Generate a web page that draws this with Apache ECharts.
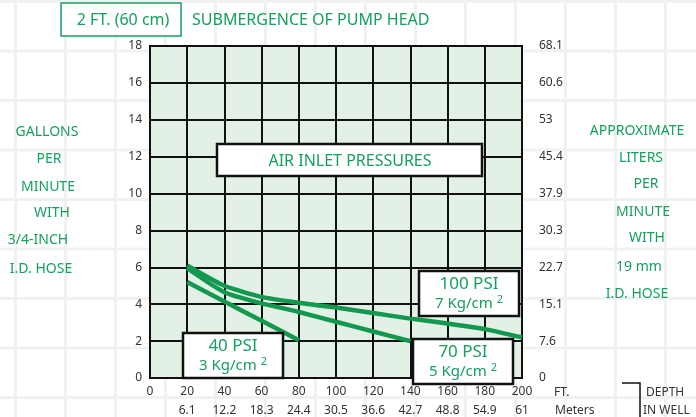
<!DOCTYPE html>
<html>
<head>
<meta charset="utf-8">
<script src="https://cdn.jsdelivr.net/npm/echarts@6/dist/echarts.min.js"></script>
<style>
  html, body {
    margin: 0;
    padding: 0;
    background-color: #fff;
    background-image:
      linear-gradient(90deg, #f0f2f2 3px, transparent 3px),
      linear-gradient(#f0f2f2 3px, transparent 3px);
    background-size: 50px 49.5px;
    background-position: 14px 0px;
  }
  #chart { width: 696px; height: 417px; }
</style>
</head>
<body>
<div id="chart"></div>
<script>
// depth in well (ft) ticks and the metric equivalents
const feetTicks = [0, 20, 40, 60, 80, 100, 120, 140, 160, 180, 200]
const meterLabels = ['', '6.1', '12.2', '18.3', '24.4', '30.5', '36.6', '42.7', '48.8', '54.9', '61']
// gallons per minute ticks and liters per minute equivalents
const gpmTicks = [0, 2, 4, 6, 8, 10, 12, 14, 16, 18]
const lpmLabels = ['0', '7.6', '15.1', '22.7', '30.3', '37.9', '45.4', '53', '60.6', '68.1']

// curves: [depth ft, gallons per minute]
const psi40 = [[20, 5.2], [40, 4.15], [60, 3.1], [80, 2.05]]
const psi70 = [[20, 5.95], [40, 4.65], [60, 4.05], [80, 3.58], [100, 3.05], [120, 2.52], [140, 2.0]]
const psi100 = [[20, 6.1], [40, 5.0], [60, 4.4], [80, 4.08], [100, 3.82], [120, 3.52], [140, 3.22], [160, 2.95], [180, 2.65], [200, 2.2]]

const green = '#16a05e'
const lineGreen = '#12994f'
const font = 'Noto Sans'

const chart = echarts.init(document.getElementById('chart'))

// stacked side captions, one x / y per line
function sideText (lines, xs, ys) {
  return lines.map((t, i) => ({
    type: 'text',
    x: xs[i],
    y: ys[i],
    style: {
      text: t,
      fill: green,
      font: '14px "' + font + '"',
      align: 'center',
      verticalAlign: 'middle'
    }
  }))
}

function labelBox (x, y, w, h, big, small) {
  return {
    type: 'group',
    x: x,
    y: y,
    children: [
      {
        type: 'rect',
        z: 10,
        shape: { x: 0, y: 0, width: w, height: h },
        style: { fill: '#fff', stroke: '#111', lineWidth: 2.5 }
      },
      {
        type: 'text',
        z: 11,
        x: w / 2,
        y: h * 0.3,
        style: {
          text: big,
          fill: green,
          font: '17px "' + font + '"',
          align: 'center',
          verticalAlign: 'middle'
        }
      },
      {
        type: 'text',
        z: 11,
        x: w / 2,
        y: h * 0.72,
        style: {
          text: '{a|' + small + ' }{s|2}',
          align: 'center',
          verticalAlign: 'middle',
          rich: {
            a: { fill: green, fontSize: 15, fontFamily: font },
            s: { fill: green, fontSize: 11, fontFamily: font, padding: [0, 0, 8, 0] }
          }
        }
      }
    ]
  }
}

const option = {
  animation: false,
  grid: {
    left: 150,
    top: 46,
    right: 174,
    bottom: 39,
    show: true,
    backgroundColor: '#e2f0e6',
    borderColor: '#111',
    borderWidth: 2
  },
  xAxis: [
    {
      type: 'value',
      min: 0,
      max: 200,
      interval: 20,
      axisLine: { show: true, lineStyle: { color: '#111', width: 2 } },
      axisTick: { show: false },
      splitLine: { show: true, lineStyle: { color: '#111', width: 2 } },
      axisLabel: { color: '#333', fontSize: 12, fontFamily: font, margin: 8 }
    },
    {
      type: 'value',
      position: 'bottom',
      offset: 19,
      min: 0,
      max: 200,
      interval: 20,
      axisLine: { show: false },
      axisTick: { show: false },
      splitLine: { show: false },
      axisLabel: {
        color: '#333',
        fontSize: 12,
        fontFamily: font,
        margin: 8,
        formatter: v => meterLabels[feetTicks.indexOf(v)] || ''
      }
    }
  ],
  yAxis: [
    {
      type: 'value',
      min: 0,
      max: 18,
      interval: 2,
      axisLine: { show: true, lineStyle: { color: '#111', width: 2 } },
      axisTick: { show: false },
      splitLine: { show: true, lineStyle: { color: '#111', width: 2 } },
      axisLabel: { color: '#333', fontSize: 12, fontFamily: font, margin: 8 }
    },
    {
      type: 'value',
      position: 'right',
      min: 0,
      max: 18,
      interval: 2,
      axisLine: { show: false },
      axisTick: { show: false },
      splitLine: { show: false },
      axisLabel: {
        color: '#333',
        fontSize: 12,
        fontFamily: font,
        margin: 17,
        formatter: v => lpmLabels[gpmTicks.indexOf(v)] || ''
      }
    }
  ],
  series: [
    {
      name: '40 PSI',
      type: 'line',
      data: psi40,
      smooth: 0.2,
      symbol: 'none',
      lineStyle: { color: lineGreen, width: 4.5 },
      z: 3
    },
    {
      name: '70 PSI',
      type: 'line',
      data: psi70,
      smooth: 0.2,
      symbol: 'none',
      lineStyle: { color: lineGreen, width: 4.5 },
      z: 3
    },
    {
      name: '100 PSI',
      type: 'line',
      data: psi100,
      smooth: 0.2,
      symbol: 'none',
      lineStyle: { color: lineGreen, width: 4.5 },
      z: 3
    }
  ],
  graphic: [
    // title
    {
      type: 'rect',
      shape: { x: 61, y: 3, width: 120, height: 33 },
      style: { fill: '#fff', stroke: green, lineWidth: 1.5 }
    },
    {
      type: 'text',
      x: 123,
      y: 20,
      style: { text: '2 FT. (60 cm)', fill: green, font: '16px "' + font + '"', align: 'center', verticalAlign: 'middle' }
    },
    {
      type: 'text',
      x: 192,
      y: 20,
      style: { text: 'SUBMERGENCE OF PUMP HEAD', fill: green, font: '16px "' + font + '"', align: 'left', verticalAlign: 'middle' }
    },
    // box in the plot
    {
      type: 'rect',
      z: 10,
      shape: { x: 217, y: 144, width: 265, height: 32 },
      style: { fill: '#fff', stroke: '#111', lineWidth: 2.5 }
    },
    {
      type: 'text',
      z: 11,
      x: 350,
      y: 161,
      style: { text: 'AIR INLET PRESSURES', fill: green, font: '16px "' + font + '"', align: 'center', verticalAlign: 'middle' }
    },
    labelBox(419, 271, 100, 45, '100 PSI', '7 Kg/cm'),
    labelBox(413, 339, 100, 45, '70 PSI', '5 Kg/cm'),
    labelBox(183, 333, 100, 45, '40 PSI', '3 Kg/cm'),
    // axis units
    {
      type: 'text',
      x: 554,
      y: 393,
      style: { text: 'FT.', fill: '#333', font: '12px "' + font + '"', verticalAlign: 'middle' }
    },
    {
      type: 'text',
      x: 555,
      y: 411,
      style: { text: 'Meters', fill: '#333', font: '12px "' + font + '"', verticalAlign: 'middle' }
    },
    {
      type: 'polyline',
      shape: { points: [[622, 383], [640, 383], [640, 417]] },
      style: { stroke: '#111', lineWidth: 1.5, fill: null }
    },
    {
      type: 'text',
      x: 646,
      y: 393,
      style: { text: 'DEPTH', fill: '#333', font: '12px "' + font + '"', verticalAlign: 'middle' }
    },
    {
      type: 'text',
      x: 643,
      y: 411,
      style: { text: 'IN WELL', fill: '#333', font: '12px "' + font + '"', verticalAlign: 'middle' }
    }
  ]
    .concat(sideText(['GALLONS', 'PER', 'MINUTE', 'WITH', '3/4-INCH', 'I.D. HOSE'],
      [47, 49, 48, 52, 38, 41], [132, 159, 187, 213, 240, 269]))
    .concat(sideText(['APPROXIMATE', 'LITERS', 'PER', 'MINUTE', 'WITH', '19 mm', 'I.D. HOSE'],
      [637, 641, 646, 643, 647, 639, 637], [131, 158, 184, 212, 238, 267, 294]))
}

chart.setOption(option)
</script>
</body>
</html>
